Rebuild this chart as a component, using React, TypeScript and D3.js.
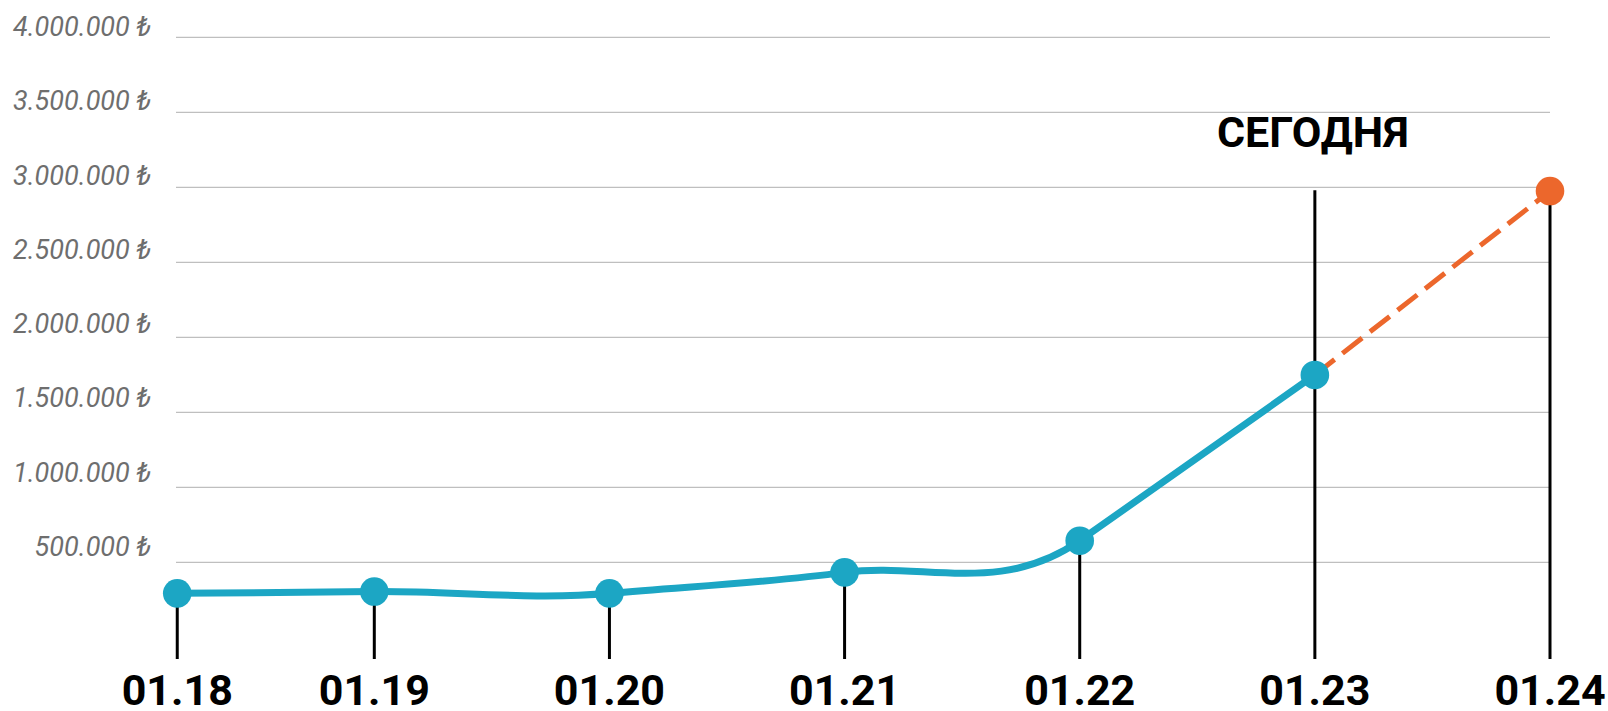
import React from "react";
import * as d3 from "d3";

// ---- data ----
const categories = ["01.18", "01.19", "01.20", "01.21", "01.22", "01.23", "01.24"];
// position of each period on the x axis (first period is inset in the original)
const periodIndex = [0.162, 1, 2, 3, 4, 5, 6];
const values = [293000, 305000, 293000, 433000, 644000, 1749000, 2975000];
const yTicks = [500000, 1000000, 1500000, 2000000, 2500000, 3000000, 3500000, 4000000];
const todayIndex = 5;
const todayLabel = "СЕГОДНЯ";
const todayLineTopValue = 2980000;

const W = 1608;
const H = 711;

const BLUE = "#1ca6c4";
const ORANGE = "#ec672c";

const fmt = (v: number) =>
  v.toString().replace(/\B(?=(\d{3})+(?!\d))/g, ".") + " ₺";

// Hermite spline whose tangent at each point follows the steeper adjacent segment
function steepSpline(p: [number, number][]): string {
  const n = p.length;
  const path = d3.path();
  if (n === 0) return "";
  const seg: number[] = [];
  for (let i = 0; i < n - 1; i++) {
    seg.push((p[i + 1][1] - p[i][1]) / (p[i + 1][0] - p[i][0]));
  }
  const m: number[] = p.map((_, i) => {
    if (i === 0) return seg[0];
    if (i === n - 1) return seg[n - 2];
    const a = seg[i - 1];
    const b = seg[i];
    return Math.abs(a) > Math.abs(b) ? a : b;
  });
  path.moveTo(p[0][0], p[0][1]);
  for (let i = 0; i < n - 1; i++) {
    const h = (p[i + 1][0] - p[i][0]) / 3;
    path.bezierCurveTo(
      p[i][0] + h,
      p[i][1] + m[i] * h,
      p[i + 1][0] - h,
      p[i + 1][1] - m[i + 1] * h,
      p[i + 1][0],
      p[i + 1][1]
    );
  }
  return path.toString();
}

export default function App() {
  const x = d3.scaleLinear().domain([1, 6]).range([374.3, 1550]);
  const y = d3.scaleLinear().domain([0, 4000000]).range([637.3, 37.3]);
  // tick labels sit slightly off the gridlines in the original
  const yLabel = d3.scaleLinear().domain([500000, 4000000]).range([556, 36]);
  const stemBottom = 659;
  const gridLeft = 176;
  const gridRight = 1550;

  const pts: [number, number][] = values.map((v, i) => [x(periodIndex[i]), y(v)]);
  const solidPts = pts.slice(0, todayIndex + 1);
  const dashPts = pts.slice(todayIndex);

  const straight = d3.line<[number, number]>();

  return (
    <svg
      width={W}
      height={H}
      style={{ position: "absolute", left: 0, top: 0, background: "#fff" }}
      fontFamily="Roboto, 'Noto Sans', sans-serif"
    >
      {/* gridlines */}
      {yTicks.map((t) => (
        <line
          key={"g" + t}
          x1={gridLeft}
          x2={gridRight}
          y1={y(t)}
          y2={y(t)}
          stroke="#b0b0b0"
          strokeWidth={1}
        />
      ))}
      {/* y labels */}
      {yTicks.map((t) => (
        <text
          key={"l" + t}
          x={151}
          y={yLabel(t)}
          textAnchor="end"
          fontStyle="italic"
          fontSize={27}
          fill="#6e6e6e"
        >
          {fmt(t)}
        </text>
      ))}
      {/* stems */}
      {pts.map(([px, py], i) => (
        <line
          key={"s" + i}
          x1={px}
          x2={px}
          y1={i === todayIndex ? y(todayLineTopValue) : py}
          y2={stemBottom}
          stroke="#000"
          strokeWidth={3}
        />
      ))}
      {/* solid line */}
      <path d={steepSpline(solidPts)} fill="none" stroke={BLUE} strokeWidth={7} strokeLinecap="round" />
      {/* forecast dashed */}
      <path
        d={straight(dashPts) || ""}
        fill="none"
        stroke={ORANGE}
        strokeWidth={5}
        strokeDasharray="25 10"
      />
      {/* dots */}
      {pts.map(([px, py], i) => (
        <circle key={"c" + i} cx={px} cy={py} r={14.3} fill={i > todayIndex ? ORANGE : BLUE} />
      ))}
      {/* today label */}
      <text
        x={x(periodIndex[todayIndex]) - 2}
        y={146.7}
        textAnchor="middle"
        fontWeight="bold"
        fontSize={43}
        fill="#000"
      >
        {todayLabel}
      </text>
      {/* x labels */}
      {categories.map((c, i) => (
        <text
          key={"x" + c}
          x={x(periodIndex[i])}
          y={705}
          textAnchor="middle"
          fontWeight="bold"
          fontSize={43}
          fill="#000"
        >
          {c}
        </text>
      ))}
    </svg>
  );
}
